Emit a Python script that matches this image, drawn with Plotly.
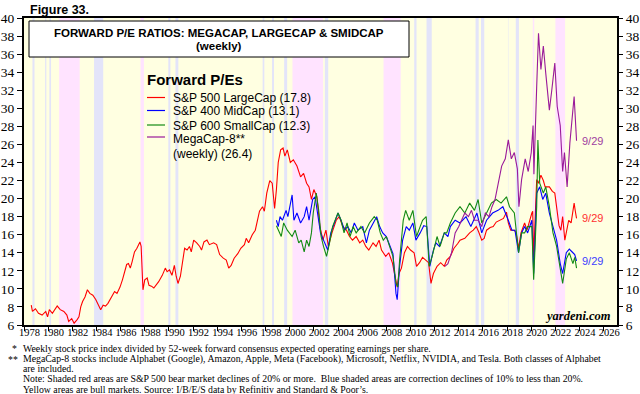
import plotly.graph_objects as go

# ---------------- data ----------------
red_years = [1978.6,1978.7,1978.95,1979.2,1979.5,1979.8,1979.95,1980.1,1980.35,1980.6,1980.75,1981.0,1981.3,1981.55,1981.7,1981.95,
 1982.15,1982.4,1982.55,1982.7,1982.85,1983.05,1983.25,1983.45,1983.7,1983.95,1984.15,1984.35,1984.55,1984.75,1984.95,1985.25,
 1985.5,1985.7,1985.95,1986.15,1986.35,1986.5,1986.65,1986.8,1986.95,1987.15,1987.35,1987.6,1987.7,1987.85,1988.0,1988.2,
 1988.35,1988.55,1988.75,1988.95,1989.15,1989.45,1989.7,1989.85,1990.05,1990.25,1990.45,1990.6,1990.75,1990.95,1991.1,1991.3,
 1991.5,1991.7,1991.85,1992.05,1992.3,1992.55,1992.7,1992.9,1993.15,1993.35,1993.7,1993.95,1994.2,1994.5,1994.75,1994.95,
 1995.15,1995.4,1995.7,1995.95,1996.25,1996.4,1996.6,1996.9,1997.15,1997.35,1997.5,1997.75,1997.9,1998.1,1998.35,1998.55,
 1998.75,1998.9,1999.05,1999.25,1999.45,1999.6,1999.8,2000.05,2000.3,2000.6,2000.9,2001.15,2001.4,2001.6,2001.8,2002.0,
 2002.25,2002.5,2002.75,2003.0,2003.2,2003.5,2003.85,2004.1,2004.4,2004.7,2004.95,2005.2,2005.5,2005.8,2006.05,2006.3,
 2006.55,2006.9,2007.15,2007.4,2007.6,2007.95,2008.2,2008.5,2008.8,2008.9,2009.05,2009.25,2009.5,2009.75,2010.0,2010.3,
 2010.5,2010.75,2011.0,2011.3,2011.5,2011.7,2011.9,2012.2,2012.5,2012.8,2013.0,2013.3,2013.6,2013.9,2014.1,2014.5,
 2014.9,2015.2,2015.45,2015.65,2015.9,2016.1,2016.3,2016.6,2016.85,2017.1,2017.4,2017.7,2017.95,2018.1,2018.3,2018.6,
 2018.75,2018.95,2019.15,2019.45,2019.65,2019.85,2020.05,2020.12,2020.2,2020.3,2020.45,2020.6,2020.8,2021.0,2021.15,2021.5,
 2021.75,2021.95,2022.1,2022.3,2022.45,2022.6,2022.78,2022.95,2023.1,2023.3,2023.55,2023.65,2023.75]
red_values = [8.2,7.5,7.8,7.3,7.1,7.5,6.9,7.7,7.3,7.8,8.1,7.7,7.5,7.1,6.4,6.7,
 6.2,6.6,6.9,8.0,8.6,9.1,9.9,9.5,9.3,8.8,8.2,7.7,8.2,8.1,8.4,9.1,
 9.7,9.5,10.2,11.0,12.1,12.7,12.8,12.3,13.0,14.1,14.5,15.2,14.7,9.9,11.0,11.2,
 10.4,10.3,10.1,10.4,10.8,11.5,12.3,11.9,12.1,11.5,12.6,11.4,10.6,11.4,12.6,14.5,
 14.3,14.7,14.1,15.4,15.1,14.7,14.3,15.2,15.4,14.9,15.1,14.9,13.8,13.4,13.2,12.3,
 12.6,13.4,13.9,14.5,14.9,15.6,15.1,16.0,16.5,17.6,18.6,19.1,18.6,20.6,22.0,21.7,
 18.9,21.0,24.0,25.4,25.6,24.7,25.4,24.0,24.3,23.6,22.4,22.8,21.7,21.3,19.9,21.0,
 20.2,16.9,15.4,16.5,14.7,16.2,17.6,18.0,16.9,16.5,15.8,15.4,15.8,15.1,15.4,14.7,
 14.3,15.1,14.7,15.4,14.3,13.6,14.0,12.9,11.0,10.2,11.7,12.3,14.0,14.7,14.3,14.0,
 12.5,12.9,13.5,13.2,12.9,10.6,11.7,12.5,12.9,12.5,13.2,13.6,14.5,15.0,15.4,15.6,
 16.2,16.5,16.9,16.3,15.4,15.6,16.5,16.8,16.9,17.4,17.6,17.8,18.5,17.3,16.5,16.5,
 16.2,14.5,16.2,17.3,16.5,17.6,18.4,18.6,13.5,17.0,22.1,21.7,22.6,22.0,21.3,21.3,
 20.8,20.6,19.1,17.0,16.5,18.0,15.4,16.5,17.6,17.3,19.5,18.6,17.8]

blue_years = [1998.9,1999.05,1999.2,1999.4,1999.7,1999.85,2000.2,2000.35,2000.6,2000.9,2001.2,2001.4,2001.6,2001.9,2002.1,2002.3,
 2002.55,2002.8,2003.15,2003.4,2003.7,2004.0,2004.25,2004.55,2004.8,2005.1,2005.35,2005.65,2006.05,2006.35,2006.6,2006.9,
 2007.2,2007.45,2007.7,2008.0,2008.3,2008.55,2008.8,2008.9,2009.1,2009.35,2009.65,2009.9,2010.2,2010.45,2010.8,2011.1,
 2011.35,2011.6,2011.9,2012.1,2012.4,2012.8,2013.1,2013.3,2013.7,2014.1,2014.6,2015.0,2015.5,2015.9,2016.3,2016.8,
 2017.25,2017.65,2018.1,2018.4,2018.65,2018.95,2019.2,2019.45,2019.7,2020.05,2020.2,2020.45,2020.7,2020.95,2021.2,2021.5,
 2021.8,2022.1,2022.4,2022.6,2022.9,2023.15,2023.45,2023.6,2023.75]
blue_values = [17.6,16.9,18.0,17.6,18.7,18.0,20.4,17.6,18.4,17.3,18.0,19.1,17.6,19.9,20.2,18.4,
 16.2,15.4,14.3,16.2,17.3,18.4,17.6,16.5,16.9,16.2,17.3,16.5,16.9,15.1,16.5,17.3,
 18.0,16.9,16.2,15.8,14.7,13.9,9.5,8.8,12.5,15.4,16.9,16.5,17.3,15.4,16.2,17.0,
 16.9,12.5,14.3,15.1,14.7,16.2,15.8,16.9,17.6,17.3,18.0,16.9,18.4,16.2,17.6,18.4,
 18.7,19.1,17.6,16.5,16.5,14.0,16.2,16.9,16.2,17.6,11.7,20.6,21.3,19.9,20.6,18.4,
 16.9,15.4,12.8,11.7,14.0,14.4,14.0,13.8,13.1]

green_years = [1998.9,1999.05,1999.3,1999.5,1999.8,2000.2,2000.45,2000.75,2000.95,2001.2,2001.4,2001.6,2001.8,2001.95,2002.2,2002.4,
 2002.6,2002.8,2003.05,2003.3,2003.55,2004.0,2004.25,2004.5,2004.75,2005.0,2005.25,2005.5,2005.9,2006.2,2006.6,2007.0,
 2007.25,2007.5,2007.75,2008.0,2008.3,2008.55,2008.8,2008.95,2009.1,2009.4,2009.6,2009.9,2010.2,2010.5,2010.8,2011.0,
 2011.3,2011.55,2011.85,2012.2,2012.45,2012.8,2013.0,2013.3,2013.7,2014.1,2014.5,2014.9,2015.3,2015.6,2015.9,2016.3,
 2016.7,2017.1,2017.5,2017.95,2018.2,2018.6,2018.95,2019.2,2019.45,2019.7,2020.05,2020.2,2020.45,2020.55,2020.7,2021.0,
 2021.2,2021.5,2021.8,2022.1,2022.4,2022.6,2022.9,2023.15,2023.45,2023.6,2023.75]
green_values = [17.0,16.5,15.8,17.3,16.5,15.8,16.5,15.1,15.4,14.1,15.4,14.7,16.2,18.4,20.6,18.7,
 15.8,14.7,13.6,15.1,16.9,18.4,17.6,16.2,17.3,15.8,16.9,16.2,16.9,16.2,17.3,18.0,
 17.6,16.2,15.4,15.8,14.7,13.6,10.6,10.2,13.2,17.6,18.7,17.6,18.7,15.8,16.9,17.6,
 18.0,12.5,13.9,15.8,14.7,16.2,16.2,17.3,18.4,19.1,18.4,19.5,18.7,19.9,17.3,18.4,
 19.5,19.9,19.5,20.2,19.1,18.4,14.0,16.2,16.2,16.9,16.9,11.0,19.1,26.5,21.7,20.6,
 21.3,19.1,16.2,14.7,12.5,10.6,13.3,14.0,12.8,13.5,12.3]

purple_years = [2012.85,2013.1,2013.4,2013.7,2014.0,2014.25,2014.5,2014.8,2015.05,2015.3,2015.6,2015.9,2016.2,2016.5,2016.75,2017.0,
 2017.3,2017.55,2017.85,2018.1,2018.35,2018.6,2018.85,2018.98,2019.2,2019.5,2019.75,2020.0,2020.15,2020.22,2020.45,2020.6,
 2020.8,2021.0,2021.2,2021.5,2021.7,2021.95,2022.15,2022.4,2022.6,2022.75,2022.97,2023.2,2023.55,2023.7,2023.75]
purple_values = [12.5,12.8,14.0,16.2,16.9,17.6,18.4,18.0,18.7,17.6,17.6,16.9,18.4,18.0,19.1,19.9,
 22.1,23.6,24.4,26.5,24.4,25.1,23.3,19.1,22.1,24.4,23.0,25.1,28.1,22.7,32.4,38.3,
 34.3,36.9,33.9,29.8,32.0,35.0,30.2,28.1,23.0,25.1,21.3,26.2,31.3,27.3,26.4]

last_date_label = "9/29"

bear_start = [1980.91, 1987.65, 2000.23, 2007.77, 2020.13, 2022.0]
bear_end   = [1982.61, 1987.93, 2002.77, 2009.19, 2020.25, 2022.8]
corr_start = [1978.7, 1979.75, 1980.1, 1983.8, 1989.95, 1990.54, 1997.76, 1998.54, 1999.54, 2002.91,
              2010.31, 2011.33, 2015.39, 2015.84, 2018.07, 2018.72]
corr_end   = [1978.87, 1979.85, 1980.24, 1984.56, 1990.12, 1990.78, 1997.9, 1998.7, 1999.79, 2003.19,
              2010.5, 2011.76, 2015.65, 2016.11, 2018.11, 2018.98]

x_tick_years = list(range(1978, 2027, 2))
y_ticks = list(range(6, 41, 2))

# ---------------- styling ----------------
W_FIG, H_FIG = 640, 394
L, R, T, B = 24, 617, 18, 325
PW, PH = R - L, B - T

def pxx(x):
    return (x - L) / PW

def pyy(y):
    return (B - y) / PH

RED, BLUE, GREEN, PURPLE = "#FF0000", "#0000FF", "#138A13", "#9A1A9A"
SERIF = "Liberation Serif, Times New Roman, serif"
SANS = "Arial, Liberation Sans, sans-serif"

fig = go.Figure()
for xs, ys, col in [(red_years, red_values, RED), (blue_years, blue_values, BLUE),
                    (green_years, green_values, GREEN), (purple_years, purple_values, PURPLE)]:
    fig.add_trace(go.Scatter(x=xs, y=ys, mode="lines", line=dict(color=col, width=1.1),
                             showlegend=False, hoverinfo="skip"))
# dummy trace so the right-hand axis is drawn
fig.add_trace(go.Scatter(x=[None], y=[None], yaxis="y2", showlegend=False, hoverinfo="skip"))

shapes = []
for s, e in zip(bear_start, bear_end):
    shapes.append(dict(type="rect", xref="x", yref="paper", x0=s, x1=e, y0=0, y1=1,
                       fillcolor="#FFE3FF", line_width=0, layer="below"))
for s, e in zip(corr_start, corr_end):
    shapes.append(dict(type="rect", xref="x", yref="paper", x0=s, x1=e, y0=0, y1=1,
                       fillcolor="#E3E4F9", line_width=0, layer="below"))
# title box
shapes.append(dict(type="rect", xref="paper", yref="paper", x0=pxx(29), x1=pxx(409),
                   y0=pyy(57), y1=pyy(21), fillcolor="white", line=dict(color="black", width=1)))
# legend samples
leg_y = [97.5, 110.5, 125, 137]
for yy, col in zip(leg_y, [RED, BLUE, GREEN, PURPLE]):
    shapes.append(dict(type="line", xref="paper", yref="paper", x0=pxx(147), x1=pxx(165),
                       y0=pyy(yy), y1=pyy(yy), line=dict(color=col, width=1.2)))

ann = []
def add_text(x, y, text, size, color="black", family=SANS, xanchor="left", bold=False, italic=False):
    t = text
    if bold:
        t = "<b>" + t + "</b>"
    if italic:
        t = "<i>" + t + "</i>"
    ann.append(dict(xref="paper", yref="paper", x=pxx(x), y=pyy(y), text=t, showarrow=False,
                    xanchor=xanchor, yanchor="middle", align="left", borderpad=0,
                    font=dict(size=size, color=color, family=family)))

add_text(29, 10, "Figure 33.", 12.5, bold=True)
add_text(219, 33, "FORWARD P/E RATIOS: MEGACAP, LARGECAP &amp; SMIDCAP", 11.5, xanchor="center", bold=True)
add_text(219, 46, "(weekly)", 11.5, xanchor="center", bold=True)
add_text(146, 79, "Forward P/Es", 15, bold=True)
add_text(172, 98, "S&amp;P 500 LargeCap (17.8)", 12)
add_text(172, 111, "S&amp;P 400 MidCap (13.1)", 12)
add_text(172, 125.5, "S&amp;P 600 SmallCap (12.3)", 12)
add_text(172, 138.5, "MegaCap-8**", 12)
add_text(172, 154, "(weekly) (26.4)", 12)
add_text(612, 316, "yardeni.com", 12.5, family=SERIF, xanchor="right", bold=True, italic=True)

# end-of-series date labels
for ys, col in [(purple_values, "#A040A0"), (red_values, "#FF3030"), (blue_values, "#4040FF")]:
    ann.append(dict(xref="x", yref="y", x=2024.0, y=ys[-1], text=last_date_label, showarrow=False,
                    xanchor="left", yanchor="middle", font=dict(size=11, color=col, family=SANS)))

foot = [
    (11, 348, "*"),
    (22, 348, "Weekly stock price index divided by 52-week forward consensus expected operating earnings per share."),
    (7, 359, "**"),
    (22, 359, "MegaCap-8 stocks include Alphabet (Google), Amazon, Apple, Meta (Facebook), Microsoft, Netflix, NVIDIA, and Tesla. Both classes of Alphabet"),
    (22, 368.5, "are included."),
    (22, 378.5, "Note: Shaded red areas are S&amp;P 500 bear market declines of 20% or more.  Blue shaded areas are correction declines of 10% to less than 20%."),
    (22, 389, "Yellow areas are bull markets. Source: I/B/E/S data by Refinitiv and Standard &amp; Poor’s."),
]
for x, y, t in foot:
    add_text(x, y, t, 9.8, family=SERIF)

fig.update_layout(
    width=W_FIG, height=H_FIG,
    margin=dict(l=L, r=W_FIG - R, t=T, b=H_FIG - B, autoexpand=False),
    paper_bgcolor="white", plot_bgcolor="#FFFFE1",
    shapes=shapes, annotations=ann, showlegend=False,
    xaxis=dict(range=[1978, 2027.1], tickvals=[y + 0.45 for y in x_tick_years], automargin=False,
               ticktext=[str(y) for y in x_tick_years], ticks="", showgrid=False, zeroline=False,
               tickangle=0, ticklabelstandoff=-4,
               showline=True, linecolor="black", linewidth=2, mirror=True,
               tickfont=dict(family=SERIF, size=10.5, color="black"),
               minor=dict(tickvals=x_tick_years, ticks="outside", ticklen=4, tickcolor="black", showgrid=False)),
    yaxis=dict(range=[6, 40], tickvals=y_ticks, ticks="outside", ticklen=5, tickcolor="black", automargin=False,
               showgrid=False, zeroline=False, showline=True, linecolor="black", linewidth=2, mirror=True,
               tickfont=dict(family=SERIF, size=13.5, color="black")),
    yaxis2=dict(range=[6, 40], tickvals=y_ticks, overlaying="y", side="right", anchor="x", automargin=False,
                ticks="outside", ticklen=5, tickcolor="black", showgrid=False, zeroline=False,
                tickfont=dict(family=SERIF, size=13.5, color="black")),
)

fig.write_html("out.html", config={"displayModeBar": False},
               post_script="document.body.style.margin='0';document.body.style.padding='0';document.body.style.overflow='hidden';")
